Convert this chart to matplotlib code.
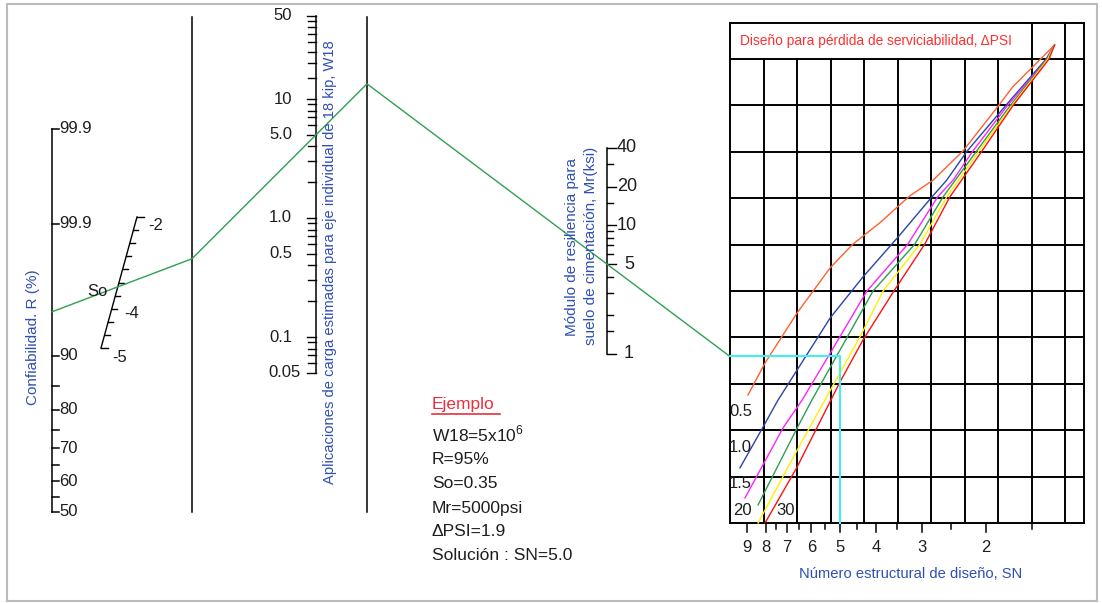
import numpy as np
import matplotlib
matplotlib.use("Agg")
import matplotlib.pyplot as plt
from matplotlib.patches import Rectangle

plt.rcParams['font.family'] = ['Liberation Sans', 'DejaVu Sans']
plt.rcParams['mathtext.fontset'] = 'custom'
plt.rcParams['mathtext.rm'] = 'Liberation Sans'

# ---------------- data ----------------
R_labels = ["99.9", "99.9", "90", "80", "70", "60", "50"]
R_z = [3.15, 2.37, 1.282, 0.842, 0.524, 0.253, 0.0]          # normal deviate of each label
R_minor_z = [1.036, 0.674, 0.385, 0.126]                     # 85, 75, 65, 55 %

So_labels = ["-2", "-4", "-5"]
So_label_vals = [-2, -4, -5]
So_range = [-2, -5]

W18_major = [50, 10, 5.0, 1.0, 0.5, 0.1, 0.05]
W18_major_labels = ["50", "10", "5.0", "1.0", "0.5", "0.1", "0.05"]
W18_minor = [15, 20, 25, 30, 35, 40, 45, 2, 3, 4, 6, 7, 8, 9,
             0.2, 0.3, 0.4, 0.6, 0.7, 0.8, 0.9, 0.06, 0.07, 0.08, 0.09]

Mr_major = [40, 20, 10, 5, 1]
Mr_major_labels = ["40", "20", "10", "5", "1"]
Mr_minor = [30, 15, 9, 8, 7, 6, 4, 3, 2, 1.5]

SN_major = [9, 8, 7, 6, 5, 4, 3, 2]
SN_minor = [7.5, 6.5, 5.5, 4.5, 3.5, 2.5, 1.5]

# design curves (SN, grid height) for each serviceability loss
SN_dpsi05 = [1.30, 1.69, 1.85, 2.31, 2.79, 3.23, 3.90, 4.62, 5.33, 6.56, 8.03, 8.94]
G_dpsi05 = [10.30, 9.40, 8.99, 8.02, 7.39, 7.05, 6.47, 6.01, 5.50, 4.53, 3.45, 2.76]
SN_dpsi10 = [1.30, 1.37, 1.77, 2.25, 2.56, 2.83, 3.48, 4.34, 5.33, 6.56, 7.40, 8.13, 9.40]
G_dpsi10 = [10.30, 10.0, 8.99, 8.02, 7.39, 7.00, 6.16, 5.30, 4.42, 3.30, 2.65, 2.07, 1.19]
SN_dpsi15 = [1.30, 1.36, 1.75, 2.17, 2.46, 2.71, 3.27, 4.23, 5.33, 6.36, 7.17, 9.11]
G_dpsi15 = [10.30, 10.0, 8.99, 8.02, 7.39, 7.03, 6.01, 5.00, 3.66, 2.65, 2.05, 0.54]
SN_dpsi20 = [1.30, 1.36, 1.72, 2.12, 2.62, 3.13, 4.07, 5.01, 5.98, 6.56, 8.39]
G_dpsi20 = [10.30, 10.0, 8.99, 8.02, 7.03, 6.01, 5.00, 3.73, 2.65, 2.05, 0.39]
SN_dpsi25 = [1.30, 1.355, 1.70, 2.09, 2.56, 3.03, 3.82, 4.42, 5.51, 6.56, 8.39]
G_dpsi25 = [10.30, 10.0, 8.99, 8.02, 7.03, 6.01, 5.00, 4.01, 2.65, 1.57, 0.0]
SN_dpsi30 = [1.30, 1.345, 1.69, 2.05, 2.51, 2.94, 3.57, 4.34, 5.01, 6.56, 8.03]
G_dpsi30 = [10.30, 10.0, 8.99, 8.02, 7.03, 6.01, 5.00, 3.94, 3.04, 1.21, 0.0]

dpsi_labels = ["0.5", "1.0", "1.5", "20", "30"]

# example
R_example_z = 1.645   # R = 95 %
So_cross = -3.6
W18_example = 5.0
Mr_example = 5.0
SN_result = 5.0

example_lines = ["W18=5x10$^{6}$", "R=95%", "So=0.35", "Mr=5000psi",
                 "ΔPSI=1.9", "Solución : SN=5.0"]

# ---------------- figure ----------------
fig = plt.figure(figsize=(11.02, 6.03), dpi=100)
ax = fig.add_axes([0, 0, 1, 1])
ax.set_xlim(0, 1102)
ax.set_ylim(603, 0)
ax.axis('off')

BLUE = '#2F4FB5'
GREEN = '#2FA050'
K = 'black'
TXT = '#1E1E1E'

ax.add_patch(Rectangle((7, 4), 1090, 597, fill=False, ec='#BBBBBB', lw=1.5))

# scale mappings (value -> pixel)
def yR(z):
    return 512 - 121.7 * z

P_top = np.array([137.0, 217.0])
P_bot = np.array([101.0, 348.0])

def pSo(s):
    t = (s - So_range[0]) / (So_range[1] - So_range[0])
    return P_top + t * (P_bot - P_top)

def yW(w):
    return 218 - 119 * np.log10(w)

def yM(m):
    return 354 - 128.6 * np.log10(m)

def xS(sn):
    return 986 - 366 * (np.log10(sn) - np.log10(2))

def yG(g):
    return 523 - 46.4 * np.asarray(g)

X_R, X_P1, X_W, X_P2, X_M = 52, 192, 316, 367, 607
GX0, GX1, GY0, GY1, GTOP = 730, 1084, 59, 523, 23

# ---- reliability axis ----
ax.plot([X_R, X_R], [yR(max(R_z)), yR(0)], color=K, lw=1.1)
for z, lab in zip(R_z, R_labels):
    ax.plot([X_R, X_R + 7], [yR(z)] * 2, color=K, lw=1.1)
    ax.text(X_R + 7, yR(z), lab, ha='left', va='center', fontsize=12, color=TXT)
for z in R_minor_z:
    ax.plot([X_R, X_R + 7], [yR(z)] * 2, color=K, lw=1.1)
ax.text(33, 337, "Confiabilidad. R (%)", rotation=90, ha='center', va='center',
        fontsize=11, color=BLUE)

# ---- So scale ----
a, b = pSo(So_range[0]), pSo(So_range[1])
ax.plot([a[0], b[0]], [a[1], b[1]], color=K, lw=1.0)
for i, s in enumerate(np.linspace(So_range[0], So_range[1], 11)):
    p = pSo(s)
    L = 7 if i in (0, 10) else 5
    ax.plot([p[0], p[0] + L], [p[1], p[1]], color=K, lw=1.0)
for s, lab in zip(So_label_vals, So_labels):
    p = pSo(s)
    ax.text(p[0] + 19, p[1] + 9, lab, ha='center', va='center', fontsize=12, color=TXT)
ax.text(97, 292, "So", ha='center', va='center', fontsize=12, color=TXT)

# ---- pivot lines ----
ax.plot([X_P1, X_P1], [17, 512], color=K, lw=1.1)
ax.plot([X_P2, X_P2], [17, 512], color=K, lw=1.1)

# ---- W18 axis ----
ax.plot([X_W, X_W], [yW(50), yW(0.05)], color=K, lw=1.1)
for w, lab in zip(W18_major, W18_major_labels):
    ax.plot([X_W - 9, X_W], [yW(w)] * 2, color=K, lw=1.0)
    ax.text(X_W - 24 + (9 if lab == "0.05" else 0), yW(w), lab, ha='right',
            va='center', fontsize=12, color=TXT)
for w in W18_minor:
    ax.plot([X_W - 8, X_W], [yW(w)] * 2, color=K, lw=1.0)
ax.text(330, 262, "Aplicaciones de carga estimadas para eje individual de 18 kip, W18",
        rotation=90, ha='center', va='center', fontsize=10.6, color=BLUE)

# ---- Mr axis ----
ax.plot([X_M, X_M], [yM(40), yM(1)], color=K, lw=1.1)
for m, lab in zip(Mr_major, Mr_major_labels):
    ax.plot([X_M, X_M + 9], [yM(m)] * 2, color=K, lw=1.0)
    ax.text(X_M + 10 + (7 if lab in ("1", "5") else 0), yM(m), lab, ha='left',
            va='center', fontsize=13, color=TXT)
for m in Mr_minor:
    ax.plot([X_M, X_M + 6], [yM(m)] * 2, color=K, lw=1.0)
ax.text(572, 247, "Módulo de resiliencia para", rotation=90, ha='center', va='center',
        fontsize=11, color=BLUE)
ax.text(591, 246, "suelo de cimentación, Mr(ksi)", rotation=90, ha='center', va='center',
        fontsize=11, color=BLUE)

# ---- design grid ----
for k in range(11):
    x = GX0 + 33.5 * k
    ytop = GTOP if k in (0, 9, 10) else GY0
    ax.plot([x, x], [ytop, GY1], color=K, lw=1.4)
ax.plot([GX1, GX1], [GTOP, GY1], color=K, lw=1.4)
ax.plot([GX0, GX1], [GTOP, GTOP], color=K, lw=1.4)
for k in range(11):
    y = GY0 + 46.4 * k
    ax.plot([GX0, GX1], [y, y], color=K, lw=1.4)
ax.text(740, 41, "Diseño para pérdida de serviciabilidad, ΔPSI", ha='left', va='center',
        fontsize=9.9, color='#FF3030')

curves = [(SN_dpsi05, G_dpsi05, '#FF6030'), (SN_dpsi10, G_dpsi10, '#2845A8'),
          (SN_dpsi15, G_dpsi15, '#FF22FF'), (SN_dpsi20, G_dpsi20, '#2E9E50'),
          (SN_dpsi25, G_dpsi25, '#FFF000'), (SN_dpsi30, G_dpsi30, '#FF1010')]
for sn, g, c in curves:
    ax.plot(xS(np.array(sn)), yG(g), color=c, lw=1.0)

for lab, g, x in zip(dpsi_labels, [2.41, 1.62, 0.86, 0.26, 0.26], [729, 729, 729, 733, 776]):
    ax.text(x, yG(g), lab, ha='left', va='center', fontsize=12, color=TXT)

# ---- SN axis ----
for sn in SN_major:
    ax.plot([xS(sn)] * 2, [GY1, GY1 + 9], color=K, lw=1.1)
    ax.text(xS(sn), 548, str(sn), ha='center', va='center', fontsize=12, color=TXT)
for sn in SN_minor:
    ax.plot([xS(sn)] * 2, [GY1, GY1 + 6], color=K, lw=1.1)
ax.text(911, 574, "Número estructural de diseño, SN", ha='center', va='center',
        fontsize=10.6, color=BLUE)

# ---- example solution path ----
pR = np.array([X_R, yR(R_example_z)])
pS = pSo(So_cross)
y1 = pR[1] + (pS[1] - pR[1]) * (X_P1 - pR[0]) / (pS[0] - pR[0])
yw = yW(W18_example)
y2 = y1 + (yw - y1) * (X_P2 - X_P1) / (X_W - X_P1)
ym = yM(Mr_example)
y3 = y2 + (ym - y2) * (GX0 - X_P2) / (X_M - X_P2)
ax.plot([pR[0], X_P1, X_P2, GX0], [pR[1], y1, y2, y3], color=GREEN, lw=1.0)
xs = xS(SN_result)
ax.plot([GX0, xs, xs], [y3, y3, GY1], color='#40F0F0', lw=1.5)

# ---- example text ----
ax.text(432, 405, "Ejemplo", ha='left', va='center', fontsize=12.5, color='#E83040')
ax.plot([432, 500], [413.5, 413.5], color='#E83040', lw=1.2)
for i, line in enumerate(example_lines):
    ax.text(432, [434, 460, 484, 508, 532, 556][i], line, ha='left', va='center',
            fontsize=12.5, color=TXT)

fig.savefig("out.png", dpi=100)
